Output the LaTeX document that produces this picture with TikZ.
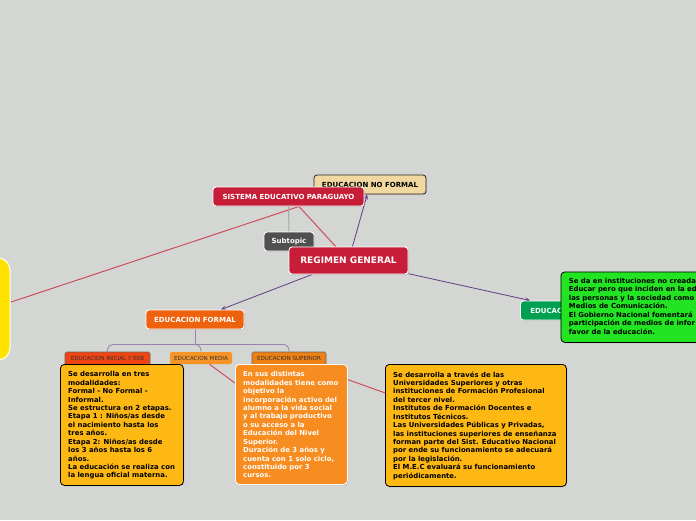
\documentclass[tikz,border=0pt]{standalone}
\usepackage{fontspec}
\setmainfont{DejaVu Sans}
\usetikzlibrary{arrows.meta,calc,shadows}
\definecolor{bgc}{RGB}{211,214,210}
\definecolor{crim}{RGB}{198,30,56}
\definecolor{tanc}{RGB}{240,216,160}
\definecolor{dgray}{RGB}{80,80,80}
\definecolor{eforange}{RGB}{238,98,14}
\definecolor{infgreen}{RGB}{0,160,80}
\definecolor{brgreen}{RGB}{34,228,34}
\definecolor{blobyel}{RGB}{255,226,0}
\definecolor{inired}{RGB}{240,68,18}
\definecolor{medorg}{RGB}{246,148,40}
\definecolor{suporg}{RGB}{238,128,20}
\definecolor{calyel}{RGB}{253,184,19}
\definecolor{calorg}{RGB}{247,140,32}
\definecolor{purp}{RGB}{100,60,130}
\definecolor{redl}{RGB}{205,78,92}
\definecolor{treel}{RGB}{150,130,170}
\definecolor{grayl}{RGB}{168,168,168}
\pgfdeclarelayer{bgl}
\pgfdeclarelayer{lines}
\pgfsetlayers{bgl,lines,main}
\tikzset{
  topic/.style={rounded corners=3pt, draw=white, line width=0.9pt, text=white,
    font=\bfseries\fontsize{7}{8}\selectfont, inner sep=0pt, minimum height=19pt,
    drop shadow={opacity=0.25,shadow xshift=1pt,shadow yshift=-1pt}},
  smalltopic/.style={rounded corners=1.5pt, inner sep=0pt, font=\fontsize{5.6}{6}\selectfont,
    text=black!80, minimum height=13pt, line width=0.6pt},
  callout/.style={rounded corners=4pt, draw=black, line width=0.8pt, inner sep=0pt,
    anchor=north west, drop shadow={opacity=0.25,shadow xshift=1pt,shadow yshift=-1pt}},
  ctext/.style={inner sep=0pt, align=left, anchor=north west,
    font=\bfseries\fontsize{6.9}{8.42}\selectfont},
  purpline/.style={draw=purp, line width=0.8pt, -{Stealth[length=5pt,width=4pt]}},
  redline/.style={draw=redl, line width=1pt},
  treeline/.style={draw=treel, line width=0.8pt, rounded corners=6pt},
}
\begin{document}
\begin{tikzpicture}[x=1pt,y=-1pt]
\useasboundingbox (0,0) rectangle (696,520);
\clip (0,0) rectangle (696,520);
\begin{pgfonlayer}{bgl}
\fill[bgc] (0,0) rectangle (696,520);
\end{pgfonlayer}

% main topics
\node[topic, fill=tanc, draw=black!85, text=black, line width=0.8pt, minimum width=112pt] (enf) at (370,184.5) {EDUCACION NO FORMAL};
\node[topic, fill=crim, minimum width=151pt] (sep) at (288.5,196.5) {SISTEMA EDUCATIVO PARAGUAYO};
\node[topic, fill=dgray, minimum width=50pt] (sub) at (289,241.5) {Subtopic};
\node[topic, fill=crim, minimum width=119pt, minimum height=27pt, font=\bfseries\fontsize{9}{10}\selectfont] (rg) at (348.5,260.5) {REGIMEN GENERAL};
\node[topic, fill=eforange, minimum width=98pt] (ef) at (195,319.5) {EDUCACION FORMAL};
\node[topic, fill=infgreen, minimum width=110pt, anchor=west] (einf) at (520,310.5) {EDUCACION INFORMAL};
\node[draw=white, line width=1pt, fill=blobyel, rounded corners=12pt, minimum width=40pt, minimum height=102pt, inner sep=0pt] (blob) at (-10,309) {};

% subtopics
\node[smalltopic, fill=inired, draw=black!60, minimum width=85pt] (eii) at (107.5,358.5) {EDUCACION INICIAL Y EEB};
\node[smalltopic, fill=medorg, minimum width=62pt, minimum height=12pt] (em) at (201,358) {EDUCACION MEDIA};
\node[smalltopic, fill=suporg, draw=black!60, minimum width=74pt] (es) at (289,358.5) {EDUCACION SUPERIOR};

% callouts
\node[callout, fill=calyel, minimum width=123pt, minimum height=121pt] (c1) at (60,364) {};
\node[ctext] (c1t) at ($(c1.north west)+(8,7.4)$) {Se desarrolla en tres\\modalidades:\\Formal - No Formal -\\Informal.\\Se estructura en 2 etapas.\\Etapa 1 : Niños/as desde\\el nacimiento hasta los\\tres años.\\Etapa 2: Niños/as desde\\los 3 años hasta los 6\\años.\\La educación se realiza con\\la lengua oficial materna.};

\node[callout, fill=calorg, draw=white, minimum width=112pt, minimum height=120pt] (c2) at (235,364) {};
\node[ctext, text=white] (c2t) at ($(c2.north west)+(8,7.4)$) {En sus distintas\\modalidades tiene como\\objetivo la\\incorporación activo del\\alumno a la vida social\\y al trabajo productivo\\o su acceso a la\\Educación del Nivel\\Superior.\\Duración de 3 años y\\cuenta con 1 solo ciclo,\\constituido por 3\\cursos.};

\node[callout, fill=calyel, minimum width=181pt, minimum height=122pt] (c3) at (385,364) {};
\node[ctext] (c3t) at ($(c3.north west)+(8,7.4)$) {Se desarrolla a través de las\\Universidades Superiores y otras\\instituciones de Formación Profesional\\del tercer nivel.\\Institutos de Formación Docentes e\\Institutos Técnicos.\\Las Universidades Públicas y Privadas,\\las instituciones superiores de enseñanza\\forman parte del Sist. Educativo Nacional\\por ende su funcionamiento se adecuará\\por la legislación.\\El M.E.C evaluará su funcionamiento\\periódicamente.};

\node[callout, fill=brgreen, minimum width=160pt, minimum height=70.5pt] (c4) at (560.5,271.5) {};
\node[ctext] (c4t) at ($(c4.north west)+(8.2,6.6)$) {Se da en instituciones no creada\\Educar pero que inciden en la ed\\las personas y la sociedad como\\Medios de Comunicación.\\El Gobierno Nacional fomentará\\participación de medios de infor\\favor de la educación.};

% connectors
\begin{pgfonlayer}{lines}
\coordinate (sepo) at ($(sep.south)+(10.5,0)$);
\draw[redline] (sepo) -- (rg);
\draw[redline] (sepo) -- (blob);
\draw[draw=grayl, line width=1pt] (sep) -- (sub);
\draw[purpline] (rg) -- (enf);
\draw[purpline] (rg) -- (ef);
\draw[purpline] (rg) -- (einf);
\coordinate (jn) at ($(ef.south)+(0,15)$);
\draw[treeline] (ef.south) -- (jn);
\draw[treeline] (jn) -| (eii.north);
\draw[treeline] (jn) -| (em.north);
\draw[treeline] (jn) -| (es.north);
\draw[redline] (em) -- (c2);
\draw[redline] (es) -- (c3);
\end{pgfonlayer}
\end{tikzpicture}
\end{document}
